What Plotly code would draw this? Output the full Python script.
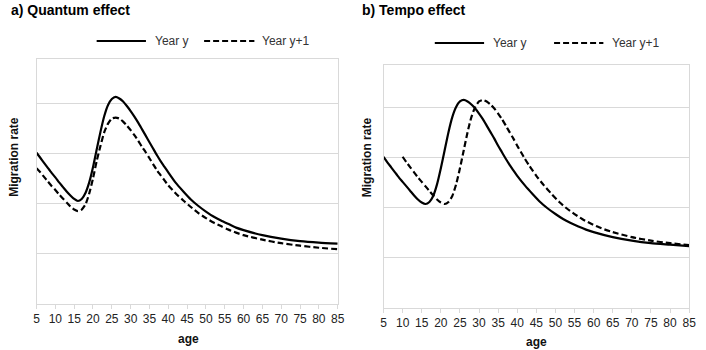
import plotly.graph_objects as go

# ---- data (values in gridline units) ----
ages_a = [5, 6, 7, 8, 9, 10, 11, 12, 13, 14, 15, 16, 17, 18, 19, 20, 21, 22, 23, 24,
          25, 26, 27, 28, 29, 30, 31, 32, 33, 34, 35, 36, 37, 38, 39, 40,
          42, 44, 46, 48, 50, 52, 54, 56, 58, 60, 65, 70, 75, 80, 85]
quantum_y = [3.01, 2.91, 2.81, 2.71, 2.61, 2.52, 2.42, 2.33, 2.24, 2.16, 2.09, 2.05,
             2.09, 2.21, 2.42, 2.72, 3.08, 3.43, 3.74, 3.96, 4.08, 4.12, 4.09, 4.03,
             3.94, 3.84, 3.73, 3.61, 3.48, 3.35, 3.22, 3.09, 2.96, 2.84, 2.73, 2.62,
             2.41, 2.24, 2.08, 1.95, 1.84, 1.74, 1.66, 1.59, 1.52, 1.47,
             1.37, 1.30, 1.25, 1.22, 1.20]
quantum_y1 = [2.70, 2.62, 2.53, 2.44, 2.35, 2.27, 2.18, 2.10, 2.02, 1.94, 1.88, 1.85,
              1.88, 1.98, 2.20, 2.50, 2.85, 3.15, 3.42, 3.59, 3.69, 3.71, 3.69, 3.63,
              3.55, 3.46, 3.36, 3.25, 3.13, 3.02, 2.90, 2.78, 2.66, 2.56, 2.46, 2.36,
              2.20, 2.06, 1.93, 1.81, 1.71, 1.62, 1.55, 1.48, 1.42, 1.37,
              1.28, 1.21, 1.16, 1.12, 1.09]

ages_b = [5, 6, 7, 8, 9, 10, 11, 12, 13, 14, 15, 16, 17, 18, 19, 20, 21, 22, 23, 24,
          25, 26, 27, 28, 29, 30, 31, 32, 33, 34, 35, 36, 37, 38, 39, 40,
          42, 44, 46, 48, 50, 52, 54, 56, 58, 60, 65, 70, 75, 80, 85]
tempo_y = [3.01, 2.90, 2.80, 2.70, 2.60, 2.51, 2.42, 2.33, 2.24, 2.16, 2.10, 2.07,
           2.11, 2.23, 2.46, 2.78, 3.14, 3.50, 3.80, 4.00, 4.11, 4.14, 4.11, 4.05,
           3.97, 3.87, 3.76, 3.63, 3.50, 3.37, 3.23, 3.10, 2.97, 2.85, 2.74, 2.63,
           2.44, 2.27, 2.11, 1.98, 1.87, 1.77, 1.69, 1.62, 1.56, 1.51,
           1.41, 1.34, 1.29, 1.26, 1.23]
ages_b1 = [10, 11, 12, 13, 14, 15, 16, 17, 18, 19, 20, 21, 22, 23, 24, 25, 26, 27, 28, 29,
           30, 31, 32, 33, 34, 35, 36, 37, 38, 39, 40, 41, 42, 43, 44, 45,
           47, 49, 51, 53, 55, 57, 59, 61, 63, 65, 70, 75, 80, 85]
tempo_y1 = [3.01, 2.90, 2.80, 2.70, 2.60, 2.51, 2.42, 2.33, 2.24, 2.16, 2.10, 2.07,
            2.11, 2.23, 2.46, 2.78, 3.14, 3.50, 3.80, 4.00, 4.11, 4.14, 4.11, 4.05,
            3.97, 3.87, 3.76, 3.63, 3.50, 3.37, 3.23, 3.10, 2.97, 2.85, 2.74, 2.63,
            2.44, 2.27, 2.11, 1.98, 1.87, 1.77, 1.69, 1.62, 1.56, 1.51,
            1.41, 1.34, 1.29, 1.25]

x_ticks = list(range(5, 90, 5))
legend_names = ["Year y", "Year y+1"]
panel_titles = ["a) Quantum effect", "b) Tempo effect"]
axis_x_title = "age"
axis_y_title = "Migration rate"

W, H = 706, 350
FONT = "Liberation Sans, Arial, sans-serif"
GRID = "#d9d9d9"
DASH = "6px,3px"
LW = 2.2


def px(x):
    return x / W


def py(y):
    return 1 - y / H


fig = go.Figure()
line_solid = dict(color="black", width=LW, shape="spline", smoothing=0.6)
line_dash = dict(color="black", width=LW, dash=DASH, shape="spline", smoothing=0.6)

fig.add_trace(go.Scatter(x=ages_a, y=quantum_y, mode="lines", name=legend_names[0],
                         line=line_solid, xaxis="x", yaxis="y", showlegend=False))
fig.add_trace(go.Scatter(x=ages_a, y=quantum_y1, mode="lines", name=legend_names[1],
                         line=line_dash, xaxis="x", yaxis="y", showlegend=False))
fig.add_trace(go.Scatter(x=ages_b, y=tempo_y, mode="lines", name=legend_names[0],
                         line=line_solid, xaxis="x2", yaxis="y2", showlegend=False))
fig.add_trace(go.Scatter(x=ages_b1, y=tempo_y1, mode="lines", name=legend_names[1],
                         line=line_dash, xaxis="x2", yaxis="y2", showlegend=False))

xcommon = dict(range=[5, 85], tickmode="array", tickvals=x_ticks,
               ticktext=[str(t) for t in x_ticks], showline=True, mirror=True,
               linecolor=GRID, linewidth=1, ticks="outside", ticklen=4, tickcolor=GRID,
               showgrid=False, zeroline=False, tickangle=0,
               tickfont=dict(family=FONT, size=12, color="#222"))
ycommon = dict(showline=True, mirror=True, linecolor=GRID, linewidth=1,
               showgrid=True, gridcolor=GRID, gridwidth=1, dtick=1, tick0=0,
               showticklabels=False, ticks="", zeroline=False)

fig.update_layout(
    width=W, height=H, margin=dict(l=0, r=0, t=0, b=0),
    paper_bgcolor="white", plot_bgcolor="white",
    font=dict(family=FONT, color="#222"),
    showlegend=False,
    xaxis=dict(domain=[px(34), px(339.5)], anchor="y", **xcommon),
    yaxis=dict(domain=[py(304), py(59)], anchor="x", range=[0, (304 - 59) / 50.25], **ycommon),
    xaxis2=dict(domain=[px(386), px(696)], anchor="y2", **xcommon),
    yaxis2=dict(domain=[py(308), py(65)], anchor="x2", range=[0, (308 - 65) / 50.25], **ycommon),
)

# legend keys drawn as paper-space samples
shapes = []
ann = []
legend_layout = [
    # (solid x0, x1, text x, dashed x0, x1, text x, y)
    (95, 145, 152, 204, 255, 261, 41),
    (438, 488, 495, 559, 609, 616, 43),
]
for (s0, s1, st, d0, d1, dt, yy) in legend_layout:
    shapes.append(dict(type="line", xref="paper", yref="paper", x0=px(s0), x1=px(s1),
                       y0=py(yy), y1=py(yy), line=dict(color="black", width=LW)))
    shapes.append(dict(type="line", xref="paper", yref="paper", x0=px(d0), x1=px(d1),
                       y0=py(yy), y1=py(yy), line=dict(color="black", width=LW, dash=DASH)))
    ann.append(dict(text=legend_names[0], x=px(st), y=py(yy), xref="paper", yref="paper",
                    xanchor="left", yanchor="middle", showarrow=False,
                    font=dict(family=FONT, size=12, color="#333")))
    ann.append(dict(text=legend_names[1], x=px(dt), y=py(yy), xref="paper", yref="paper",
                    xanchor="left", yanchor="middle", showarrow=False,
                    font=dict(family=FONT, size=12, color="#333")))

for title, xx in [(panel_titles[0], 6), (panel_titles[1], 362)]:
    ann.append(dict(text="<b>" + title + "</b>", x=px(xx), y=py(10), xref="paper", yref="paper",
                    xanchor="left", yanchor="middle", showarrow=False,
                    font=dict(family=FONT, size=14, color="black")))
for xx, yy in [(188, 339), (541, 342)]:
    ann.append(dict(text="<b>" + axis_x_title + "</b>", x=px(xx), y=py(yy), xref="paper", yref="paper",
                    xanchor="center", yanchor="middle", showarrow=False,
                    font=dict(family=FONT, size=12, color="#111")))
for xx, yy in [(11, 157), (369.5, 157)]:
    ann.append(dict(text="<b>" + axis_y_title + "</b>", x=px(xx), y=py(yy), xref="paper", yref="paper",
                    xanchor="center", yanchor="middle", showarrow=False, textangle=-90,
                    font=dict(family=FONT, size=12, color="#111")))

fig.update_layout(shapes=shapes, annotations=ann)

fig.write_html("out.html")
